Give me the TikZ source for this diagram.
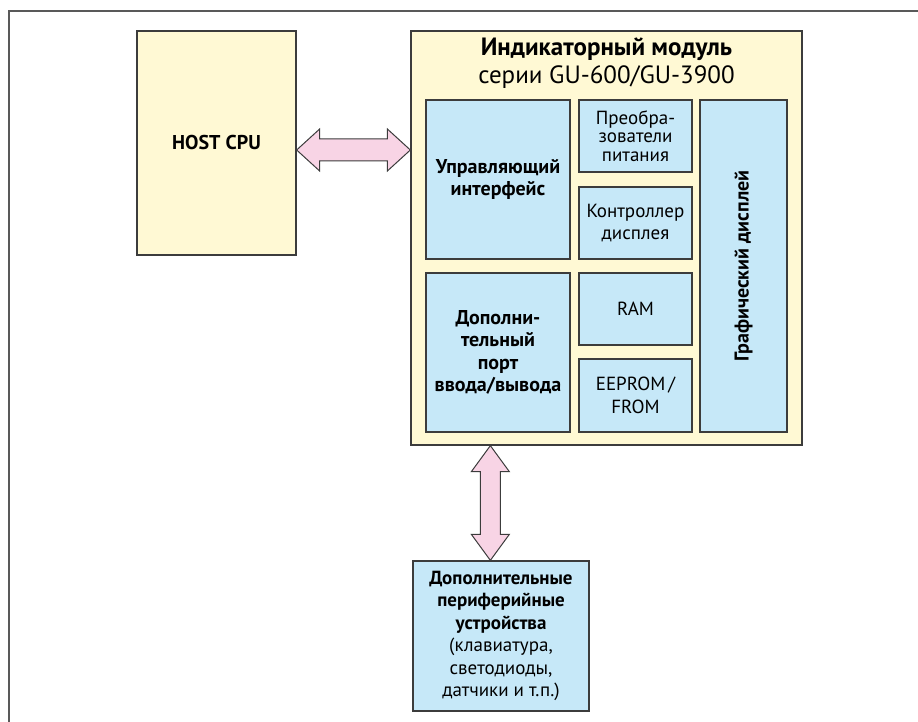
\documentclass[tikz,border=0pt]{standalone}
\usepackage{fontspec}
\setmainfont{PT Sans}
\usetikzlibrary{calc}

\definecolor{cream}{HTML}{FFF9D4}
\definecolor{paleblue}{HTML}{C6E8F8}
\definecolor{pinkarrow}{HTML}{F8D4E5}
\definecolor{edgegray}{HTML}{3C3C3C}

\begin{document}
\begin{tikzpicture}[x=1pt, y=-1pt,
    box/.style={draw=edgegray, line width=1.3pt, inner sep=0pt, align=center,
      font=\fontsize{19}{22.5}\selectfont},
    yellowbox/.style={box, fill=cream},
    bluebox/.style={box, fill=paleblue},
    boldtext/.style={font=\fontsize{20}{22.5}\selectfont\bfseries},
    fatarrow/.style={draw=edgegray, line width=1pt, fill=pinkarrow, line join=miter}]
    \useasboundingbox (0, 0) rectangle (918, 722);
    \draw [edgegray!85, line width=2pt] (9, 722) -- (9, 11) -- (918, 11);

    \node [yellowbox, boldtext, minimum width=159, minimum height=224] (host) at (216.5, 143) {HOST CPU};
    \node [yellowbox, minimum width=391, minimum height=414] (module) at (606.5, 238) {};
    \node [align=center, font=\fontsize{25}{28}\selectfont] (title) at (606.5, 63)
      {\textbf{Индикаторный модуль}\\серии GU-600/GU-3900};

    \node [bluebox, boldtext, minimum width=144, minimum height=159] (ctrl) at (498, 179.5) {Управляющий\\интерфейс};
    \node [bluebox, boldtext, minimum width=144, minimum height=159] (ioport) at (498, 352.5)
      {Дополни-\\тельный\\порт\\ввода/вывода};
    \node [bluebox, minimum width=113, minimum height=72, font=\fontsize{19}{18.5}\selectfont]
      (power) at (635.5, 136) {Преобра-\\зователи\\питания};
    \node [bluebox, minimum width=113, minimum height=72] (dispctl) at (635.5, 223) {Контроллер\\дисплея};
    \node [bluebox, minimum width=113, minimum height=72] (ram) at (635.5, 309) {RAM};
    \node [bluebox, minimum width=113, minimum height=73] (eeprom) at (635.5, 395.5) {EEPROM\,/\\FROM};
    \node [bluebox, minimum width=87, minimum height=332] (gdisp) at (743.5, 266) {};
    \node [boldtext, rotate=90] at (gdisp.center) {Графический дисплей};

    \node [bluebox, minimum width=176, minimum height=150] (periph) at (501, 636)
      {\textbf{Дополнительные}\\\textbf{периферийные}\\\textbf{устройства}\\(клавиатура,\\светодиоды,\\датчики и т.п.)};

    % host <-> module
    \coordinate (h1) at ($(host.east)+(0, 7)$);
    \coordinate (h2) at (h1 -| module.west);
    \draw [fatarrow] (h1) -- ++(23, -21) -- ++(0, 10) -- ($(h2)+(-23, -11)$) -- ++(0, -10) -- (h2)
      -- ++(-23, 21) -- ++(0, -10) -- ($(h1)+(23, 11)$) -- ++(0, 10) -- cycle;

    % module <-> periphery
    \coordinate (v1) at ($(module.south west)+(80, 0)$);
    \coordinate (v2) at (v1 |- periph.north);
    \draw [fatarrow] (v1) -- ++(19, 26) -- ++(-9, 0) -- ($(v2)+(10, -26)$) -- ++(9, 0) -- (v2)
      -- ++(-19, -26) -- ++(9, 0) -- ($(v1)+(-10, 26)$) -- ++(-9, 0) -- cycle;
\end{tikzpicture}
\end{document}
